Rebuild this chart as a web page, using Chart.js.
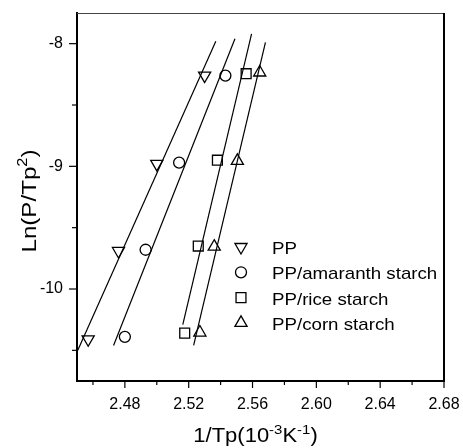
<!DOCTYPE html>
<html>
<head>
<meta charset="utf-8">
<script src="https://cdn.jsdelivr.net/npm/chart.js@4/dist/chart.umd.min.js"></script>
<style>
  html, body { margin: 0; padding: 0; background: #fff; }
  canvas { display: block; }
</style>
</head>
<body>
<canvas id="kissinger" width="463" height="448"></canvas>
<script>
// 1/Tp (10^-3 K^-1) against ln(P/Tp^2) for each sample
const seriesNames = ["PP", "PP/amaranth starch", "PP/rice starch", "PP/corn starch"];

const ppX = [2.457, 2.476, 2.500, 2.530];
const ppY = [-10.41, -9.69, -8.98, -8.26];
const amaX = [2.480, 2.493, 2.514, 2.543];
const amaY = [-10.39, -9.68, -8.97, -8.26];
const riceX = [2.5175, 2.526, 2.538, 2.556];
const riceY = [-10.36, -9.65, -8.95, -8.245];
const cornX = [2.527, 2.536, 2.5505, 2.5645];
const cornY = [-10.355, -9.655, -8.955, -8.235];

// ends of the fitted straight lines
const ppFitX = [2.4505, 2.537];
const ppFitY = [-10.50, -7.98];
const amaFitX = [2.4729, 2.549];
const amaFitY = [-10.46, -7.96];
const riceFitX = [2.5163, 2.5594];
const riceFitY = [-10.29, -7.92];
const cornFitX = [2.5231, 2.5681];
const cornFitY = [-10.46, -7.99];

const xTickValues = [2.46, 2.48, 2.50, 2.52, 2.54, 2.56, 2.58, 2.60, 2.62, 2.64, 2.66, 2.68];
const xTickLabels = ["", "2.48", "", "2.52", "", "2.56", "", "2.60", "", "2.64", "", "2.68"];
const yTickValues = [-10.5, -10, -9.5, -9, -8.5, -8];
const yTickLabels = ["", "-10", "", "-9", "", "-8"];

const markers = [
  { style: "triangle", rotation: 180, radius: 7 },
  { style: "circle", rotation: 0, radius: 5.5 },
  { style: "rect", rotation: 0, radius: 7 },
  { style: "triangle", rotation: 0, radius: 7 }
];

const pts = (xs, ys) => xs.map((x, i) => ({ x: x, y: ys[i] }));

const pointSets = [pts(ppX, ppY), pts(amaX, amaY), pts(riceX, riceY), pts(cornX, cornY)];
const fitSets = [pts(ppFitX, ppFitY), pts(amaFitX, amaFitY), pts(riceFitX, riceFitY), pts(cornFitX, cornFitY)];

const FONT = "'Liberation Sans', Arial, Helvetica, sans-serif";

function markerPath(ctx, m, x, y) {
  const r = m.radius;
  ctx.beginPath();
  if (m.style === "circle") {
    ctx.arc(x, y, r, 0, Math.PI * 2);
  } else if (m.style === "rect") {
    const s = r * Math.SQRT1_2;
    ctx.rect(x - s, y - s, 2 * s, 2 * s);
  } else {
    const sgn = m.rotation === 180 ? -1 : 1;
    const h = r * Math.sqrt(3) / 2;
    ctx.moveTo(x, y - sgn * r);
    ctx.lineTo(x + h, y + sgn * r / 2);
    ctx.lineTo(x - h, y + sgn * r / 2);
    ctx.closePath();
  }
  ctx.stroke();
}

// text with superscript parts, slightly widened
function richText(ctx, parts, size, cx, baseY, sx) {
  const supSize = size * 0.68;
  let total = 0;
  parts.forEach(p => {
    ctx.font = (p.sup ? supSize : size) + "px " + FONT;
    p.w = ctx.measureText(p.t).width;
    total += p.w;
  });
  ctx.save();
  ctx.translate(cx, baseY);
  ctx.scale(sx, 1);
  let x = -total / 2;
  ctx.textBaseline = "alphabetic";
  ctx.textAlign = "left";
  parts.forEach(p => {
    ctx.font = (p.sup ? supSize : size) + "px " + FONT;
    ctx.fillText(p.t, x, p.sup ? -size * 0.42 : 0);
    x += p.w;
  });
  ctx.restore();
}

// keep tick labels from pushing the plot area inwards
function noEdgePadding(s) {
  s.paddingTop = 0;
  s.paddingBottom = 0;
  s.paddingLeft = 0;
  s.paddingRight = 0;
}

const decor = {
  id: "decor",
  afterDraw(chart) {
    const ctx = chart.ctx;
    const a = chart.chartArea;
    const xs = chart.scales.x, ys = chart.scales.y;
    ctx.save();
    ctx.strokeStyle = "#000";
    ctx.fillStyle = "#000";

    // top and right frame
    ctx.lineWidth = 1;
    ctx.strokeStyle = "#444";
    ctx.beginPath();
    ctx.moveTo(a.left, a.top + 0.5);
    ctx.lineTo(a.right, a.top + 0.5);
    ctx.stroke();
    ctx.strokeStyle = "#000";
    ctx.lineWidth = 2;
    ctx.beginPath();
    ctx.moveTo(a.right, a.top);
    ctx.lineTo(a.right, a.bottom);
    ctx.stroke();

    // outward ticks, long for labelled ones
    ctx.lineWidth = 1.2;
    xTickValues.forEach((v, i) => {
      const px = xs.getPixelForValue(v);
      const len = xTickLabels[i] ? 7 : 4;
      ctx.beginPath();
      ctx.moveTo(px, a.bottom);
      ctx.lineTo(px, a.bottom + len);
      ctx.stroke();
    });
    yTickValues.forEach((v, i) => {
      const py = ys.getPixelForValue(v);
      const len = yTickLabels[i] ? 8 : 5;
      ctx.beginPath();
      ctx.moveTo(a.left, py);
      ctx.lineTo(a.left - len, py);
      ctx.stroke();
    });

    // legend
    const lx = a.left + 164, ly = a.top + 234, step = 25.3;
    seriesNames.forEach((name, i) => {
      ctx.lineWidth = 1.3;
      markerPath(ctx, markers[i], lx, ly + i * step);
      ctx.save();
      ctx.translate(lx + 31, ly + i * step + 7);
      ctx.scale(1.1, 1);
      ctx.font = "17px " + FONT;
      ctx.textAlign = "left";
      ctx.textBaseline = "alphabetic";
      ctx.fillText(name, 0, 0);
      ctx.restore();
    });

    // axis titles
    richText(ctx, [{ t: "1/Tp(10" }, { t: "-3", sup: true }, { t: "K" }, { t: "-1", sup: true }, { t: ")" }],
      20, (a.left + a.right) / 2 - 5, 442, 1.1);
    ctx.save();
    ctx.translate(36, 201);
    ctx.rotate(-Math.PI / 2);
    richText(ctx, [{ t: "Ln(P/Tp" }, { t: "2", sup: true }, { t: ")" }], 21, 0, 0, 1.15);
    ctx.restore();

    ctx.restore();
  }
};

const datasets = [];
fitSets.forEach((d, i) => {
  datasets.push({
    label: seriesNames[i] + " fit",
    data: d,
    showLine: true,
    borderColor: "#000",
    borderWidth: 1.2,
    pointRadius: 0,
    fill: false
  });
});
pointSets.forEach((d, i) => {
  datasets.push({
    label: seriesNames[i],
    data: d,
    showLine: false,
    pointStyle: markers[i].style,
    pointRotation: markers[i].rotation,
    pointRadius: markers[i].radius,
    pointBorderColor: "#000",
    pointBackgroundColor: "rgba(0,0,0,0)",
    pointBorderWidth: 1.3
  });
});

new Chart(document.getElementById("kissinger"), {
  type: "scatter",
  data: { datasets: datasets },
  options: {
    responsive: false,
    animation: false,
    layout: { padding: { top: 13, right: 19, left: 0, bottom: 0 } },
    plugins: { legend: { display: false }, tooltip: { enabled: false } },
    scales: {
      x: {
        type: "linear",
        min: 2.45,
        max: 2.68,
        afterBuildTicks: s => { s.ticks = xTickValues.map(v => ({ value: v })); },
        afterFit: s => { s.height = 67; noEdgePadding(s); },
        grid: { display: false, drawTicks: false },
        border: { display: true, color: "#000", width: 2 },
        ticks: {
          padding: 14,
          color: "#000",
          font: { family: FONT, size: 16 },
          maxRotation: 0,
          autoSkip: false,
          callback: (v, i) => xTickLabels[i]
        }
      },
      y: {
        type: "linear",
        min: -10.75,
        max: -7.75,
        afterBuildTicks: s => { s.ticks = yTickValues.map(v => ({ value: v })); },
        afterFit: s => { s.width = 77; noEdgePadding(s); },
        grid: { display: false, drawTicks: false },
        border: { display: true, color: "#000", width: 2 },
        ticks: {
          padding: 14,
          color: "#000",
          font: { family: FONT, size: 16 },
          autoSkip: false,
          callback: (v, i) => yTickLabels[i]
        }
      }
    }
  },
  plugins: [decor]
});
</script>
</body>
</html>
